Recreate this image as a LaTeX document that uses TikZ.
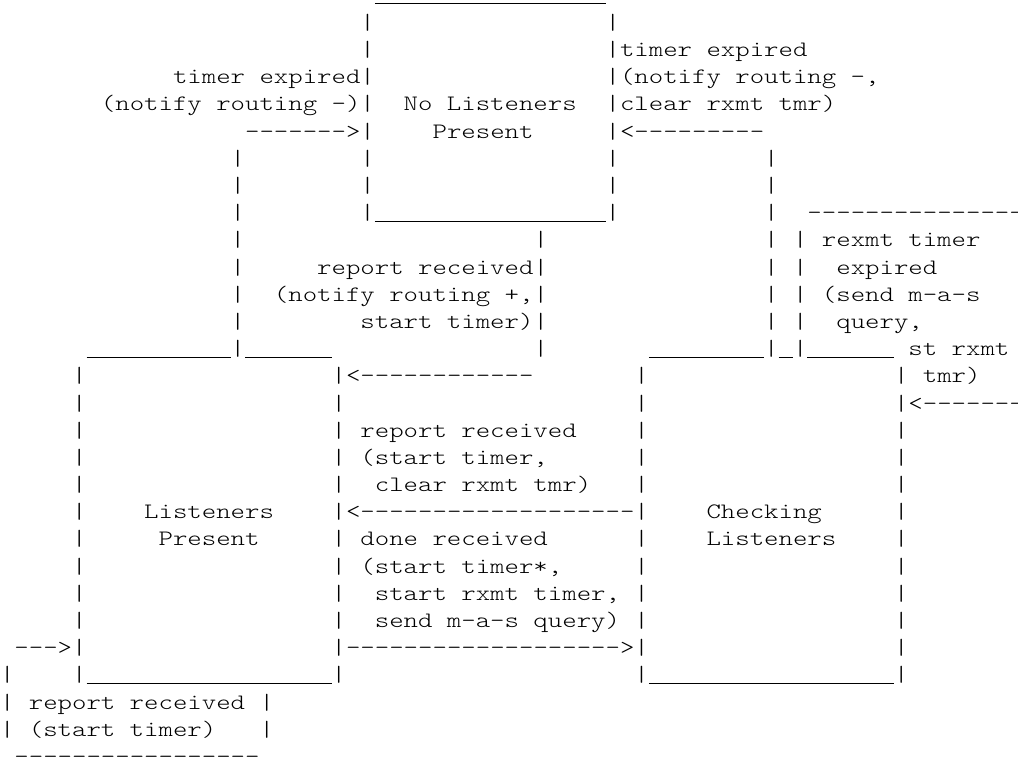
\documentclass[tikz,border=0pt]{standalone}
\usepackage{fontspec}
\newfontfamily\asciifont[FakeStretch=1.2485,WordSpace={1,0,0},PunctuationSpace=WordSpace]{lmmonolt10-regular.otf}
\usetikzlibrary{positioning}
\ExplSyntaxOn
\cs_new:Npn \repchar #1#2 { \prg_replicate:nn {#1} {#2} }
\ExplSyntaxOff
\begin{document}
\begin{tikzpicture}
   [x=7.21pt,y=-13.6pt,
    asc/.style={anchor=base west,inner sep=0pt,outer sep=0pt,
      font=\asciifont\fontsize{11pt}{13.6pt}\selectfont},
    uline/.style={line width=0.5pt,yshift=-0.95pt}]
\useasboundingbox (0,-0.074) rectangle (70.6,27.87);
% vertical strokes, one bar per text row
\foreach \col/\first/\last in {25/1/8,42/1/8,16/6/13,53/6/13,37/9/13,55/9/13,
    5/14/25,23/14/25,44/14/25,62/14/25,0/25/27,18/26/27}
  \foreach \row in {\first,...,\last}
    \node [asc] (bar-\col-\row) at (\col,\row) {|};
% underscore runs (box edges)
\foreach \col/\row/\len in {26/0/16,26/8/16,6/13/10,17/13/6,6/25/17,
    45/13/8,54/13/1,56/13/6,45/25/17}
  \draw [uline] (\col,\row) -- ++(\len,0);
% No Listeners Present
\node [asc] (nlp-a) at (28,4) {No Listeners};
\node [asc] (nlp-b) at (30,5) {Present};
% Listeners Present
\node [asc] (lp-a) at (10,19) {Listeners};
\node [asc] (lp-b) at (11,20) {Present};
% Checking Listeners
\node [asc] (cl-a) at (49,19) {Checking};
\node [asc] (cl-b) at (49,20) {Listeners};
% loops drawn with dashes
\node [asc] (rx-top) at (56,8) {\repchar{16}{-}};
\node [asc] (rr-bot) at (1,28) {\repchar{17}{-}};
% arrows
\node [asc] (ar-nlp-l) at (17,5) {\repchar{7}{-}>};
\node [asc] (ar-nlp-r) at (43,5) {<\repchar{9}{-}};
\node [asc] (ar-lp-up) at (24,14) {<\repchar{12}{-}};
\node [asc] (ar-cl-rx) at (63,15) {<\repchar{8}{-}};
\node [asc] (ar-lp-in) at (24,19) {<\repchar{19}{-}};
\node [asc] (ar-cl-in) at (24,24) {\repchar{19}{-}>};
\node [asc] (ar-rr) at (1,24) {\repchar{3}{-}>};
% labels
\node [asc] (te-r1) at (43,2) {timer expired};
\node [asc] (te-r2) at (43,3) {(notify routing -,};
\node [asc] (te-r3) at (43,4) {clear rxmt tmr)};
\node [asc] (te-l1) at (12,3) {timer expired};
\node [asc] (te-l2) at (7,4) {(notify routing -)};
\node [asc] (rx-1) at (57,9) {rexmt timer};
\node [asc] (rx-2) at (58,10) {expired};
\node [asc] (rx-3) at (57,11) {(send m-a-s};
\node [asc] (rx-4) at (58,12) {query,};
\node [asc] (rx-5) at (63,13) {st rxmt};
\node [asc] (rx-6) at (64,14) {tmr)};
\node [asc] (rp-1) at (22,10) {report received};
\node [asc] (rp-2) at (19,11) {(notify routing +,};
\node [asc] (rp-3) at (25,12) {start timer)};
\node [asc] (rc-1) at (25,16) {report received};
\node [asc] (rc-2) at (25,17) {(start timer,};
\node [asc] (rc-3) at (26,18) {clear rxmt tmr)};
\node [asc] (dr-1) at (25,20) {done received};
\node [asc] (dr-2) at (25,21) {(start timer*,};
\node [asc] (dr-3) at (26,22) {start rxmt timer,};
\node [asc] (dr-4) at (26,23) {send m-a-s query)};
\node [asc] (rr-1) at (2,26) {report received};
\node [asc] (rr-2) at (2,27) {(start timer)};
\end{tikzpicture}
\end{document}
